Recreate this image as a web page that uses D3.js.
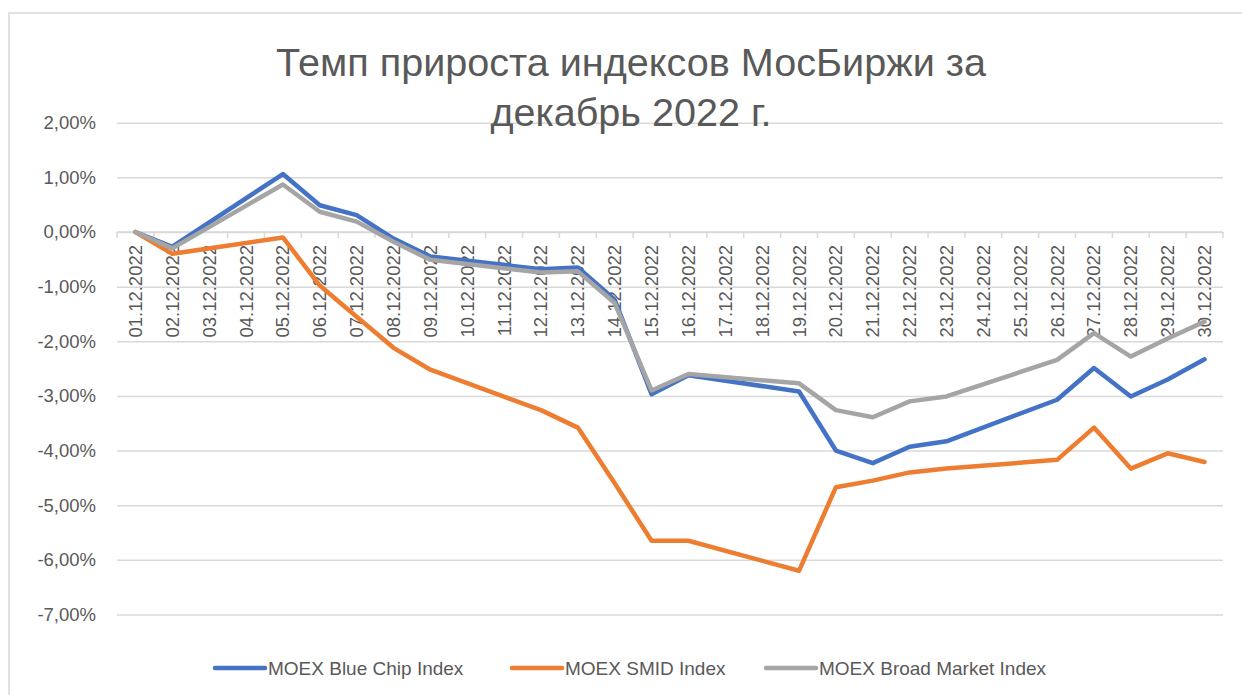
<!DOCTYPE html>
<html>
<head>
<meta charset="utf-8">
<script src="https://cdn.jsdelivr.net/npm/d3@7"></script>
<style>
  body { margin: 0; background: #fff; }
  svg { display: block; font-family: "Liberation Sans", Arial, sans-serif; }
</style>
</head>
<body>
<div id="wrapper"></div>
<script>
// --- data (% values; null = no trading day) ---
const dates = ["01.12.2022","02.12.2022","03.12.2022","04.12.2022","05.12.2022","06.12.2022",
  "07.12.2022","08.12.2022","09.12.2022","10.12.2022","11.12.2022","12.12.2022","13.12.2022",
  "14.12.2022","15.12.2022","16.12.2022","17.12.2022","18.12.2022","19.12.2022","20.12.2022",
  "21.12.2022","22.12.2022","23.12.2022","24.12.2022","25.12.2022","26.12.2022","27.12.2022",
  "28.12.2022","29.12.2022","30.12.2022"]
const blueChip = [0, -0.27, null, null, 1.06, 0.49, 0.31, -0.12, -0.45, null, null, -0.68, -0.65,
  -1.24, -2.97, -2.62, null, null, -2.92, -4.00, -4.23, -3.93, -3.83, null, null, -3.07, -2.49,
  -3.01, -2.70, -2.33]
const smid = [0, -0.40, null, null, -0.10, -0.98, -1.55, -2.12, -2.52, null, null, -3.26, -3.58,
  -4.60, -5.65, -5.65, null, null, -6.20, -4.67, -4.55, -4.40, -4.33, null, null, -4.17, -3.58,
  -4.33, -4.05, -4.21]
const broad = [0, -0.30, null, null, 0.87, 0.37, 0.19, -0.18, -0.51, null, null, -0.74, -0.72,
  -1.30, -2.90, -2.60, null, null, -2.77, -3.26, -3.39, -3.10, -3.01, null, null, -2.34, -1.85,
  -2.28, -1.95, -1.64]
const seriesNames = ["MOEX Blue Chip Index", "MOEX SMID Index", "MOEX Broad Market Index"]
const seriesColors = ["#4472C4", "#ED7D31", "#A5A5A5"]
const yTicks = [2, 1, 0, -1, -2, -3, -4, -5, -6, -7]
const titleLines = ["Темп прироста индексов МосБиржи за", "декабрь 2022 г."]

function drawChart() {
    const dimensions = {
        width: 1242,
        height: 695,
        plot: { left: 117, right: 1223, top: 122.7, bottom: 614.5 }
    }
    const textColor = "#595959"
    const gridColor = "#D9D9D9"

    const svg = d3.select("#wrapper")
        .append("svg")
        .attr("width", dimensions.width)
        .attr("height", dimensions.height)

    // outer chart border (runs past the right/bottom edge of the picture)
    svg.append("rect")
        .attr("x", 9).attr("y", 13)
        .attr("width", 1260).attr("height", 720)
        .attr("fill", "#fff")
        .attr("stroke", gridColor)
        .attr("stroke-width", 1.5)

    // scales
    const xScale = d3.scaleBand()
        .domain(dates)
        .range([dimensions.plot.left, dimensions.plot.right])
    const yScale = d3.scaleLinear()
        .domain([-7, 2])
        .range([dimensions.plot.bottom, dimensions.plot.top])
    const xCenter = d => xScale(d) + xScale.bandwidth() / 2

    // gridlines + y labels
    const yAxis = d3.axisLeft(yScale)
        .tickValues(yTicks)
        .tickSize(-(dimensions.plot.right - dimensions.plot.left))
        .tickPadding(21)
        .tickFormat(d => d.toFixed(2).replace(".", ",") + "%")
    const yG = svg.append("g")
        .attr("transform", `translate(${dimensions.plot.left},0)`)
        .call(yAxis)
    yG.select(".domain").remove()
    yG.selectAll(".tick line").attr("stroke", gridColor).attr("stroke-width", 1.5)
    yG.selectAll(".tick text")
        .attr("fill", textColor)
        .style("font-size", "18.5px")
        .style("font-family", "Liberation Sans")

    // category axis at 0
    const x0 = yScale(0)
    const xG = svg.append("g")
    xG.append("line")
        .attr("x1", dimensions.plot.left).attr("x2", dimensions.plot.right)
        .attr("y1", x0).attr("y2", x0)
        .attr("stroke", gridColor).attr("stroke-width", 1.5)
    const bounds = dates.map(d => xScale(d)).concat([dimensions.plot.right])
    xG.selectAll(".xtick")
        .data(bounds)
        .join("line")
        .attr("x1", d => d).attr("x2", d => d)
        .attr("y1", x0).attr("y2", x0 + 6)
        .attr("stroke", gridColor).attr("stroke-width", 1.5)
    xG.selectAll(".xlabel")
        .data(dates)
        .join("text")
        .attr("transform", d => `translate(${xCenter(d) + 6.5},${x0 + 13}) rotate(-90)`)
        .attr("text-anchor", "end")
        .attr("fill", textColor)
        .style("font-size", "18.5px")
        .text(d => d)

    // lines
    const allSeries = [blueChip, smid, broad]
    const line = d3.line()
        .x(d => xCenter(d.date))
        .y(d => yScale(d.value))
    allSeries.forEach((vals, i) => {
        const pts = dates.map((d, j) => ({ date: d, value: vals[j] }))
            .filter(p => p.value !== null)
        svg.append("path")
            .datum(pts)
            .attr("d", line)
            .attr("fill", "none")
            .attr("stroke", seriesColors[i])
            .attr("stroke-width", 4.5)
            .attr("stroke-linejoin", "round")
            .attr("stroke-linecap", "round")
    })

    // title
    const title = svg.append("text")
        .attr("text-anchor", "middle")
        .attr("fill", textColor)
        .style("font-size", "36px")
    title.selectAll("tspan")
        .data(titleLines)
        .join("tspan")
        .attr("x", 631)
        .attr("y", (d, i) => 76 + i * 50)
        .text(d => d)
    // fit the first line to the width seen in the picture
    const firstW = title.select("tspan").node().getComputedTextLength()
    title.style("font-size", (36 * 711 / firstW).toFixed(1) + "px")

    // legend
    const legendX = [215, 512, 766]
    const legend = svg.append("g")
    seriesNames.forEach((name, i) => {
        legend.append("line")
            .attr("x1", legendX[i]).attr("x2", legendX[i] + 50)
            .attr("y1", 668).attr("y2", 668)
            .attr("stroke", seriesColors[i])
            .attr("stroke-width", 4.5)
            .attr("stroke-linecap", "round")
        legend.append("text")
            .attr("x", legendX[i] + 53)
            .attr("y", 675)
            .attr("fill", textColor)
            .style("font-size", "19px")
            .text(name)
    })
}

drawChart()
</script>
</body>
</html>
